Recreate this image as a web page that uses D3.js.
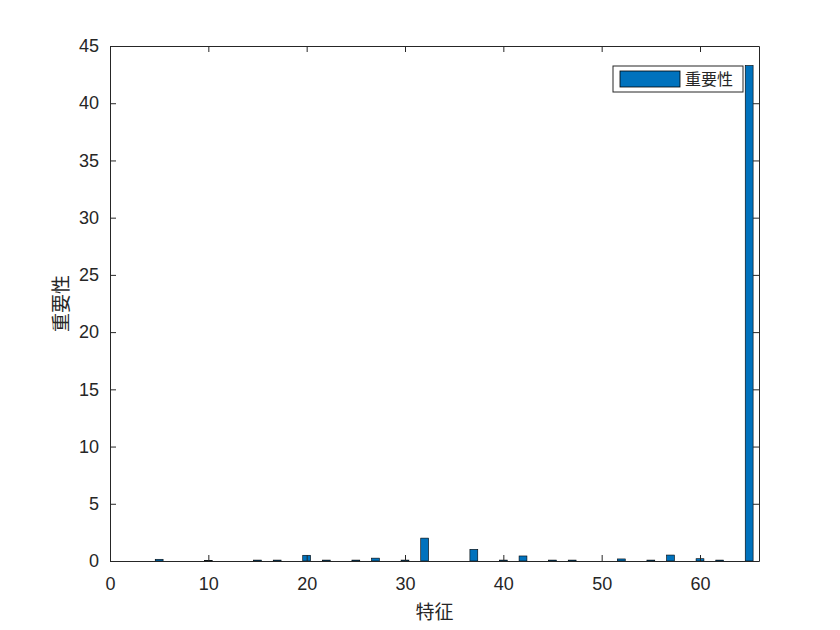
<!DOCTYPE html>
<html>
<head>
<meta charset="utf-8">
<script src="https://cdn.jsdelivr.net/npm/d3@7"></script>
<style>
  body { margin: 0; background: #fff; }
  svg { display: block; }
</style>
</head>
<body>
<div id="vis"></div>
<script>
// feature index 1..65 and the importance
var features = d3.range(1, 66);
var importance = [
  0, 0, 0, 0, 0.15, 0, 0, 0, 0, 0.05,
  0, 0, 0, 0, 0.08, 0, 0.08, 0, 0, 0.5,
  0, 0.08, 0, 0, 0.08, 0, 0.25, 0, 0, 0.08,
  0, 2.0, 0, 0, 0, 0, 1.02, 0, 0, 0.08,
  0, 0.44, 0, 0, 0.08, 0, 0.08, 0, 0, 0,
  0, 0.18, 0, 0, 0.08, 0, 0.52, 0, 0, 0.2,
  0, 0.08, 0, 0, 43.3
];
var xTicks = [0, 10, 20, 30, 40, 50, 60];
var yTicks = [0, 5, 10, 15, 20, 25, 30, 35, 40, 45];
var seriesName = '重要性';

var svg = d3.select('#vis').append('svg')
  .attr('width', 840)
  .attr('height', 630);

var MARGIN = { left: 110, top: 46, right: 81, bottom: 69 };
var w = 840 - MARGIN.left - MARGIN.right;
var h = 630 - MARGIN.top - MARGIN.bottom;
var axisColor = '#262626';
var tickFont = 'Liberation Sans, Arial, sans-serif';
var cjkFont = '"Noto Sans CJK SC", sans-serif';

var plot = svg.append('g')
  .attr('transform', 'translate(' + MARGIN.left + ',' + MARGIN.top + ')');

var x = d3.scaleLinear().domain([0, 66]).range([0, w]);
var y = d3.scaleLinear().domain([0, 45]).range([h, 0]);
var barW = x(0.8) - x(0);

// bars
plot.append('g')
  .selectAll('rect')
  .data(features.map(function (f, i) { return { f: f, v: importance[i] }; }))
  .enter().append('rect')
  .attr('x', function (d) { return x(d.f) - barW / 2; })
  .attr('y', function (d) { return y(d.v); })
  .attr('width', barW)
  .attr('height', function (d) { return y(0) - y(d.v); })
  .attr('fill', '#0072BD')
  .attr('stroke', '#000')
  .attr('stroke-width', 0.6);

// axes, ticks inward like matlab
var xAxis = d3.axisBottom(x).tickValues(xTicks).tickSizeInner(-6).tickSizeOuter(0).tickPadding(16);
var yAxis = d3.axisLeft(y).tickValues(yTicks).tickSizeInner(-6).tickSizeOuter(0).tickPadding(11);
var xTop = d3.axisTop(x).tickValues(xTicks).tickSizeInner(-6).tickSizeOuter(0).tickFormat('');
var yRight = d3.axisRight(y).tickValues(yTicks).tickSizeInner(-6).tickSizeOuter(0).tickFormat('');

var gx = plot.append('g').attr('transform', 'translate(0,' + h + ')').call(xAxis);
var gy = plot.append('g').call(yAxis);
var gxt = plot.append('g').call(xTop);
var gyr = plot.append('g').attr('transform', 'translate(' + w + ',0)').call(yRight);

[gx, gy, gxt, gyr].forEach(function (g) {
  g.selectAll('path, line').attr('stroke', axisColor).attr('stroke-width', 1);
  g.selectAll('text')
    .attr('fill', axisColor)
    .style('font-family', tickFont)
    .style('font-size', '18px');
});

// axis labels
svg.append('text')
  .text('特征')
  .attr('x', MARGIN.left + w / 2)
  .attr('y', 619)
  .attr('text-anchor', 'middle')
  .attr('fill', axisColor)
  .style('font-family', cjkFont)
  .style('font-size', '19px');
svg.append('text')
  .text('重要性')
  .attr('transform', 'translate(68,' + (MARGIN.top + h / 2) + ') rotate(-90)')
  .attr('text-anchor', 'middle')
  .attr('fill', axisColor)
  .style('font-family', cjkFont)
  .style('font-size', '19px');

// legend
var legend = plot.append('g').attr('transform', 'translate(' + (w - 146) + ',20)');
legend.append('rect')
  .attr('width', 130).attr('height', 26)
  .attr('fill', '#fff').attr('stroke', axisColor).attr('stroke-width', 1);
legend.append('rect')
  .attr('x', 7).attr('y', 5).attr('width', 60).attr('height', 16)
  .attr('fill', '#0072BD').attr('stroke', '#000').attr('stroke-width', 0.8);
legend.append('text')
  .text(seriesName)
  .attr('x', 72).attr('y', 19)
  .attr('fill', axisColor)
  .style('font-family', cjkFont)
  .style('font-size', '16px');
</script>
</body>
</html>
